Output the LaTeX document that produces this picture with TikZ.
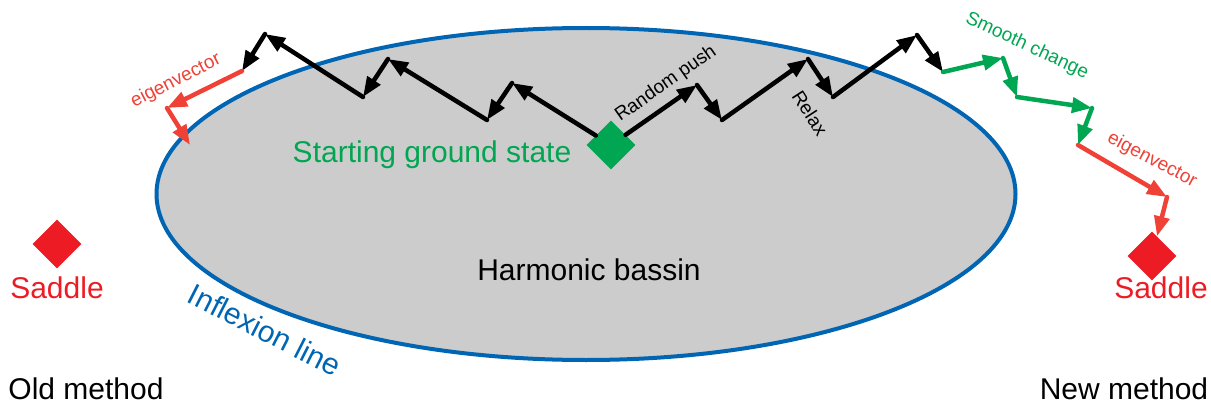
\documentclass[tikz,border=0pt]{standalone}
\usepackage{fontspec}
\setmainfont{Liberation Sans}
\usetikzlibrary{shapes.geometric,arrows.meta}
\definecolor{basinblue}{HTML}{0066B3}
\definecolor{basingray}{HTML}{CCCCCC}
\definecolor{stgreen}{HTML}{00A651}
\definecolor{sadred}{HTML}{ED1C24}
\definecolor{eigred}{HTML}{EF4136}
\begin{document}
\begin{tikzpicture}[x=1pt,y=-1pt,
  big/.style={font=\fontsize{30}{36}\selectfont, inner sep=0pt},
  small/.style={font=\fontsize{19}{23}\selectfont, inner sep=0pt},
  gem/.style={diamond, aspect=1, minimum width=49pt, minimum height=49pt, inner sep=0pt},
  walk/.style={line width=4.5pt, line cap=round, -{Triangle[length=20pt,width=15pt]}},
  blackwalk/.style={walk, draw=black},
  greenwalk/.style={walk, draw=stgreen, fill=stgreen},
  redwalk/.style={walk, draw=eigred, fill=eigred}
]
\useasboundingbox (0,0) rectangle (1211,404);

% basin
\node[ellipse, draw=basinblue, fill=basingray, line width=4pt,
      minimum width=859pt, minimum height=332pt, inner sep=0pt] (basin) at (586,194) {};
\node[big, anchor=base] (harm) at (589,280) {Harmonic bassin};
\node[big, text=basinblue, rotate=-27] (infl) at (265,330) {Inflexion line};

% states
\node[gem, fill=stgreen] (start) at (611,145) {};
\node[gem, fill=sadred] (saddleL) at (57,244) {};
\node[gem, fill=sadred] (saddleR) at (1152,256) {};
\node[big, text=stgreen, anchor=base] (startlab) at (432,162) {Starting ground state};
\node[big, text=sadred, anchor=base] (sadLlab) at (57,298) {Saddle};
\node[big, text=sadred, anchor=base] (sadRlab) at (1161,298) {Saddle};
\node[big, anchor=base] (old) at (86,399) {Old method};
\node[big, anchor=base] (new) at (1124,399) {New method};

% old method walk
\coordinate (b1) at (512,83);
\coordinate (b2) at (487,120);
\coordinate (b3) at (388,59);
\coordinate (b4) at (363,97);
\coordinate (b5) at (265,34);
\coordinate (b6) at (242,71);
\coordinate (r1) at (167,108);
\coordinate (r2) at (190,145);
\draw[blackwalk] (start) -- (b1);
\draw[blackwalk] (b1) -- (b2);
\draw[blackwalk] (b2) -- (b3);
\draw[blackwalk] (b3) -- (b4);
\draw[blackwalk] (b4) -- (b5);
\draw[blackwalk] (b5) -- (b6);
\draw[redwalk] (b6) -- (r1);
\draw[redwalk] (r1) -- (r2);

% new method walk
\coordinate (c1) at (697,85);
\coordinate (c2) at (722,120);
\coordinate (c3) at (808,59);
\coordinate (c4) at (833,97);
\coordinate (c5) at (917,35);
\coordinate (c6) at (943,72);
\coordinate (g1) at (1003,58);
\coordinate (g2) at (1017,97);
\coordinate (g3) at (1092,108);
\coordinate (g4) at (1078,145);
\coordinate (e1) at (1167,197);
\draw[blackwalk] (start) -- (c1);
\draw[blackwalk] (c1) -- (c2);
\draw[blackwalk] (c2) -- (c3);
\draw[blackwalk] (c3) -- (c4);
\draw[blackwalk] (c4) -- (c5);
\draw[blackwalk] (c5) -- (c6);
\draw[greenwalk] (c6) -- (g1);
\draw[greenwalk] (g1) -- (g2);
\draw[greenwalk] (g2) -- (g3);
\draw[greenwalk] (g3) -- (g4);
\draw[redwalk] (g4) -- (e1);
\draw[redwalk] (e1) -- (saddleR);

% labels
\node[small, text=eigred, rotate=27] (eigL) at (176,81) {eigenvector};
\node[small, rotate=35] (push) at (666,84) {Random push};
\node[small, rotate=-57] (relax) at (810,113) {Relax};
\node[small, text=stgreen, rotate=-25] (smooth) at (1027,46) {Smooth change};
\node[small, text=eigred, rotate=-28] (eigR) at (1152,160) {eigenvector};
\end{tikzpicture}
\end{document}
